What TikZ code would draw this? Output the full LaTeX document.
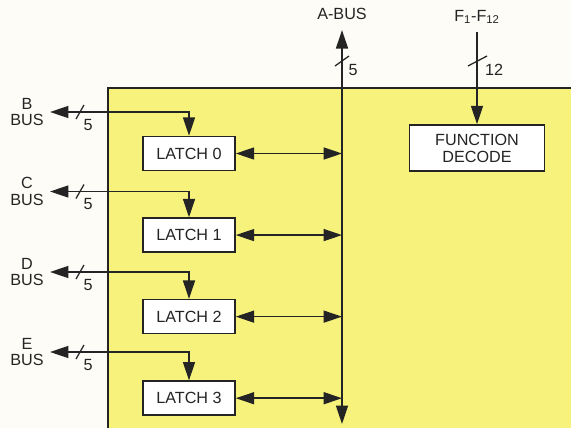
\documentclass[tikz,border=0pt]{standalone}
\usepackage{fontspec}
\setmainfont{Liberation Sans}
\usetikzlibrary{positioning,arrows.meta}
\definecolor{panel}{RGB}{247,242,124}
\definecolor{paper}{RGB}{253,252,247}
\definecolor{ink}{RGB}{36,36,36}

\begin{document}
\begin{tikzpicture}[
  x=0.025cm, y=-0.025cm,
  color=ink, line width=1.1pt,
  font=\fontsize{11.5}{12}\selectfont,
  >={Triangle[length=4.6mm,width=3mm]},
  node distance=1.15cm,
  latch/.style={draw, fill=white, minimum width=2.3cm, minimum height=0.85cm, inner sep=0pt},
  decodebox/.style={draw, fill=white, align=center, minimum width=3.375cm, minimum height=1.15cm, inner sep=0pt},
  lbl/.style={align=center, inner sep=4pt},
  num/.style={inner sep=0pt},
  bus/.style={<->},
  oneway/.style={->},
  busmark/.style={line width=0.9pt}
]
% paper and the yellow board
\fill[paper] (0,0) rectangle (571,428);
\useasboundingbox (0,0) rectangle (571,428);
\fill[panel] (108,88) rectangle (571,428);
\draw (108,428) -- (108,88) -- (571,88);

% latches
\node[latch] (latch0) at (189,153.5) {LATCH 0};
\node[latch, below=of latch0] (latch1) {LATCH 1};
\node[latch, below=of latch1] (latch2) {LATCH 2};
\node[latch, below=of latch2] (latch3) {LATCH 3};

\node[decodebox] (decode) at (477,148) {FUNCTION\\DECODE};

% outside buses
\node[lbl] (bbus) at (27,112) {B\\BUS};
\node[lbl] (cbus) at (27,191.5) {C\\BUS};
\node[lbl] (dbus) at (27,272) {D\\BUS};
\node[lbl] (ebus) at (27,352) {E\\BUS};
\node[lbl] (abus) at (342,14) {A-BUS};
\node[lbl] (fbus) at (477,17) {F\textsubscript{1}-F\textsubscript{12}};
\coordinate (abot) at (342,424);

\draw[bus] (bbus.east) -| (latch0.north);
\draw[bus] (cbus.east) -| (latch1.north);
\draw[bus] (dbus.east) -| (latch2.north);
\draw[bus] (ebus.east) -| (latch3.north);
\draw[bus, shorten <=1mm] (abus) -- (abot);
\draw[oneway, shorten <=0.5mm] (fbus) -- (decode);

\draw[bus] (latch0.east) -- (latch0.east -| abot);
\draw[bus] (latch1.east) -- (latch1.east -| abot);
\draw[bus] (latch2.east) -- (latch2.east -| abot);
\draw[bus] (latch3.east) -- (latch3.east -| abot);

% bus widths
\draw[busmark] (76,119) -- (84,105);
\draw[busmark] (76,198.5) -- (84,184.5);
\draw[busmark] (76,279) -- (84,265);
\draw[busmark] (76,359) -- (84,345);
\draw[busmark] (335,66) -- (349,56);
\draw[busmark] (468,66) -- (487,56);
\node[num] (nb) at (88,125) {5};
\node[num] (nc) at (88,204.5) {5};
\node[num] (nd) at (88,285) {5};
\node[num] (ne) at (88,365) {5};
\node[num] (na) at (353,70) {5};
\node[num] (nf) at (494,70) {12};
\end{tikzpicture}
\end{document}
